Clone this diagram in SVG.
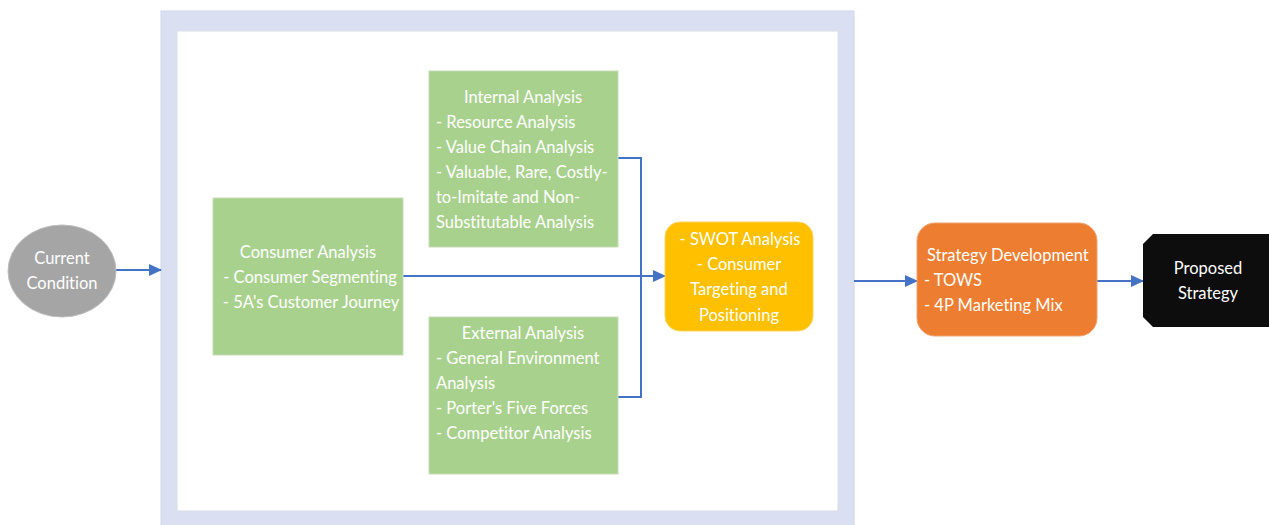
<svg xmlns="http://www.w3.org/2000/svg" width="1269" height="525" viewBox="0 0 1269 525">
<style>
text{font-family:Lato,"Open Sans",sans-serif;font-size:16.5px;fill:#fff;font-variant-ligatures:none}
.c{text-anchor:middle}
.g{fill:#A9D18E;stroke:#C5DDB5;stroke-width:1}
.ln{stroke:#4472C4;stroke-width:2;fill:none}
</style>
<defs>
<marker id="ah" markerWidth="13" markerHeight="13" refX="12" refY="6.5" orient="auto" markerUnits="userSpaceOnUse">
<path d="M0,0.5 L13,6.5 L0,12.5 z" fill="#4472C4"/>
</marker>
</defs>
<rect width="1269" height="525" fill="#fff"/>
<g id="frame">
<rect x="161" y="11" width="693" height="520" fill="#DAE0F2" stroke="#D2D8EC"/>
<rect x="177" y="31" width="661" height="480" fill="#fff" stroke="#D9DDE8"/>
</g>
<g id="connectors">
<line class="ln" x1="115" y1="270" x2="161" y2="270" marker-end="url(#ah)"/>
<line class="ln" x1="403" y1="276" x2="665" y2="276" marker-end="url(#ah)"/>
<polyline class="ln" points="618,158 641,158 641,397 618,397"/>
<line class="ln" x1="854" y1="281" x2="917" y2="281" marker-end="url(#ah)"/>
<line class="ln" x1="1097" y1="281" x2="1143" y2="281" marker-end="url(#ah)"/>
</g>
<g id="current">
<ellipse cx="62" cy="271" rx="54" ry="46" fill="#A5A5A5" stroke="#BDBDBD"/>
<text class="c" x="62" y="264">Current</text>
<text class="c" x="62" y="289">Condition</text>
</g>
<g id="consumer">
<rect class="g" x="213" y="198" width="190" height="157"/>
<text class="c" x="308" y="258">Consumer Analysis</text>
<text class="c" x="310" y="283">- Consumer Segmenting</text>
<text class="c" x="311" y="308">- 5A's Customer Journey</text>
</g>
<g id="internal">
<rect class="g" x="429" y="71" width="189" height="176"/>
<text class="c" x="523" y="103">Internal Analysis</text>
<text x="436" y="128">- Resource Analysis</text>
<text x="436" y="153">- Value Chain Analysis</text>
<text x="436" y="178">- Valuable, Rare, Costly-</text>
<text x="436" y="203">to-Imitate and Non-</text>
<text x="436" y="228">Substitutable Analysis</text>
</g>
<g id="external">
<rect class="g" x="429" y="317" width="189" height="157"/>
<text class="c" x="523" y="339">External Analysis</text>
<text x="436" y="364">- General Environment</text>
<text x="436" y="389">Analysis</text>
<text x="436" y="414">- Porter's Five Forces</text>
<text x="436" y="439">- Competitor Analysis</text>
</g>
<g id="swot">
<rect x="665" y="222" width="148" height="109" rx="15" fill="#FFC000" stroke="#FFD35A"/>
<text class="c" x="740" y="245">- SWOT Analysis</text>
<text class="c" x="739" y="270">- Consumer</text>
<text class="c" x="739" y="295">Targeting and</text>
<text class="c" x="739" y="321">Positioning</text>
</g>
<g id="strategy">
<rect x="917" y="223" width="180" height="113" rx="18" fill="#ED7D31" stroke="#F2A070"/>
<text x="927" y="261">Strategy Development</text>
<text x="924" y="286">- TOWS</text>
<text x="924" y="311">- 4P Marketing Mix</text>
</g>
<g id="proposed">
<polygon points="1153,234 1269,234 1269,327 1153,327 1143,317 1143,244" fill="#0D0D0D"/>
<text class="c" x="1208" y="274">Proposed</text>
<text class="c" x="1208" y="299">Strategy</text>
</g>
</svg>
